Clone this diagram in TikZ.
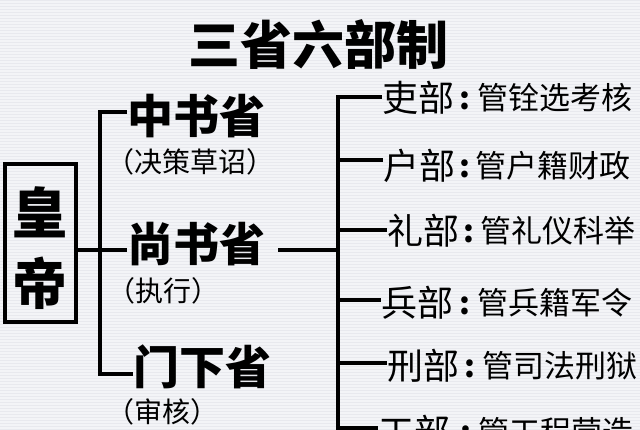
\documentclass[tikz,border=0pt]{standalone}
\usepackage{fontspec}
\setmainfont{Noto Sans CJK SC}
\newcommand{\fsz}[1]{\fontsize{#1pt}{#1pt}\selectfont}
\begin{document}
\begin{tikzpicture}[x=1pt,y=-1pt,
  txt/.style={inner sep=0pt, outer sep=0pt, text=black},
  titletxt/.style={txt, font=\fsz{52}\bfseries},
  emptxt/.style={txt, font=\fsz{55}\bfseries},
  shengtxt/.style={txt, font=\fsz{46}\bfseries},
  subtxt/.style={txt, font=\fsz{28}},
  deptxt/.style={txt, font=\fsz{36}, anchor=west},
  desctxt/.style={txt, font=\fsz{31}, anchor=west},
  tree/.style={line width=4pt, black},
  box/.style={draw, line width=3.5pt, minimum width=71pt, minimum height=158pt, inner sep=0pt}
]
\useasboundingbox (0,0) rectangle (640,430);
\clip (0,0) rectangle (640,430);
\fill[fill={rgb,255:red,243;green,244;blue,247}] (0,0) rectangle (640,430);
\foreach \k in {0,3,...,429} {
  \draw[line width=0.8pt, draw={rgb,255:red,232;green,233;blue,238}] (0,\k) -- (640,\k);
}

% title
\node[titletxt] (title) at (318,45) {三省六部制};

% emperor
\node[box] (huang) at (40.5,243) {};
\node[emptxt] (huang1) at (40,212) {皇};
\node[emptxt] (huang2) at (40,283) {帝};

% three departments
\node[shengtxt] (zs) at (196,116) {中书省};
\node[subtxt] (zssub) at (190,162) {（决策草诏）};
\node[shengtxt] (ss) at (196,244) {尚书省};
\node[subtxt] (sssub) at (163,291) {（执行）};
\node[shengtxt] (mx) at (202,367) {门下省};
\node[subtxt] (mxsub) at (162,412) {（审核）};

\coordinate (j1) at (100,112);
\coordinate (j2) at (100,250);
\coordinate (j3) at (100,374);
\draw[tree] (zs.west |- j1) -- (j1) -- (j3) -- (mx.west |- j3);
\draw[tree] (huang.east |- j2) -- (ss.west |- j2);

% six ministries
\node[deptxt] (li) at (382,98) {吏部};
\node[desctxt] (lid) at (459,98) {\makebox[18pt][l]{\bfseries :}管铨选考核};
\node[deptxt] (hu) at (383,166) {户部};
\node[desctxt] (hud) at (459,166) {\makebox[16pt][l]{\bfseries :}管户籍财政};
\node[deptxt] (lii) at (387,231) {礼部};
\node[desctxt] (liid) at (463,231) {\makebox[17pt][l]{\bfseries :}管礼仪科举};
\node[deptxt] (bing) at (381,303) {兵部};
\node[desctxt] (bingd) at (459,303) {\makebox[18pt][l]{\bfseries :}管兵籍军令};
\node[deptxt] (xing) at (387,366) {刑部};
\node[desctxt] (xingd) at (464,366) {\makebox[18pt][l]{\bfseries :}管司法刑狱};
\node[deptxt] (gong) at (378,432) {工部};
\node[desctxt] (gongd) at (460,432) {\makebox[18pt][l]{\bfseries :}管工程营造};

\coordinate (s1) at (338,97);
\coordinate (s2) at (338,160);
\coordinate (s3) at (338,230);
\coordinate (s4) at (338,300);
\coordinate (s5) at (338,363);
\coordinate (s6) at (338,428);
\coordinate (send) at (338,440);
\coordinate (sm) at (338,250);
\draw[tree] ([xshift=13pt]ss.east |- j2) -- (sm);
\draw[tree] (li.west |- s1) -- (s1) -- (send);
\draw[tree] (s2) -- (hu.west |- s2);
\draw[tree] (s3) -- (lii.west |- s3);
\draw[tree] (s4) -- (bing.west |- s4);
\draw[tree] (s5) -- (xing.west |- s5);
\draw[tree] (s6) -- (gong.west |- s6);
\end{tikzpicture}
\end{document}
